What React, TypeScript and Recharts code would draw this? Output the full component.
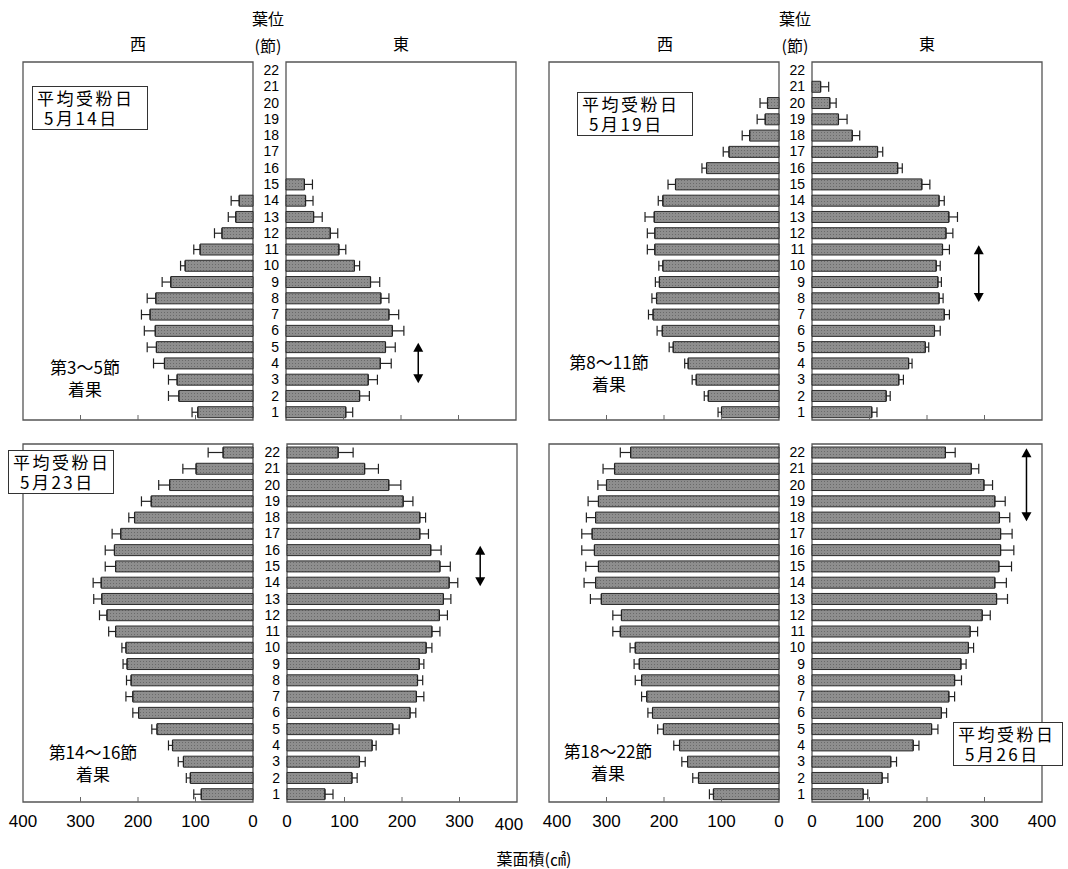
import { BarChart, Bar, XAxis, YAxis, ErrorBar, ReferenceArea, ReferenceLine } from "recharts";

// 葉位 (節) 1..22
const NODES = [1, 2, 3, 4, 5, 6, 7, 8, 9, 10, 11, 12, 13, 14, 15, 16, 17, 18, 19, 20, 21, 22];
const X_TICKS = [0, 100, 200, 300, 400];

// 平均受粉日 5月14日
const may14West = [96, 129, 132, 154, 168, 170, 179, 169, 143, 118, 92, 54, 30, 24];
const may14WestErr = [10, 18, 15, 19, 16, 19, 15, 15, 15, 8, 11, 13, 13, 14];
const may14East = [104, 128, 143, 164, 173, 185, 179, 165, 147, 119, 92, 77, 48, 34, 32];
const may14EastErr = [12, 17, 16, 19, 17, 20, 17, 14, 16, 9, 12, 13, 15, 13, 14];

// 平均受粉日 5月19日
const may19West = [100, 123, 144, 158, 184, 203, 219, 213, 208, 202, 216, 216, 217, 202, 180, 126, 87, 51, 24, 20];
const may19WestErr = [6, 7, 7, 6, 7, 9, 8, 8, 7, 7, 13, 13, 16, 8, 13, 8, 10, 13, 14, 13];
const may19East = [104, 129, 151, 168, 197, 213, 230, 221, 219, 216, 227, 233, 238, 221, 191, 149, 114, 70, 46, 31, 15];
const may19EastErr = [9, 7, 8, 6, 6, 10, 9, 7, 6, 7, 12, 12, 15, 9, 14, 8, 9, 13, 15, 11, 14];

// 平均受粉日 5月23日
const may23West = [90, 109, 121, 140, 167, 199, 209, 212, 219, 221, 239, 254, 263, 264, 239, 241, 230, 206, 177, 145, 99, 52];
const may23WestErr = [13, 7, 9, 7, 9, 10, 12, 8, 7, 7, 12, 13, 14, 14, 18, 16, 15, 10, 17, 19, 23, 26];
const may23East = [66, 113, 126, 148, 184, 214, 225, 227, 230, 242, 252, 265, 272, 282, 266, 250, 231, 231, 202, 177, 135, 89];
const may23EastErr = [14, 9, 10, 7, 11, 10, 13, 9, 8, 10, 14, 14, 13, 15, 18, 18, 15, 10, 17, 21, 24, 26];

// 平均受粉日 5月26日
const may26West = [114, 140, 159, 173, 201, 220, 230, 239, 243, 250, 276, 274, 309, 319, 314, 321, 325, 319, 314, 300, 286, 258];
const may26WestErr = [7, 10, 10, 10, 10, 8, 9, 11, 9, 9, 13, 15, 19, 20, 22, 22, 18, 16, 18, 15, 20, 18];
const may26East = [89, 122, 137, 176, 208, 225, 238, 248, 259, 272, 275, 296, 321, 318, 325, 328, 328, 326, 318, 299, 277, 232];
const may26EastErr = [8, 10, 10, 10, 11, 9, 10, 12, 9, 9, 13, 14, 19, 20, 22, 23, 20, 18, 18, 15, 13, 17];

const PLOT_W = 230;
const PLOT_H = 358;
const AXIS_W = 40;
const XAXIS_H = 36;
const M = 2;
const SIDE = 18;
const JP = "'Noto Sans CJK JP', 'Noto Sans', sans-serif";
const NUM = "'Liberation Sans', Arial, sans-serif";

function buildData(values: number[], errs: number[]) {
  return NODES.map((n, i) => ({
    node: n,
    value: values[i] ?? null,
    err: errs[i] != null ? [0, errs[i]] : null,
  }));
}

function XTick(props: any) {
  const { x, y, payload, showLabel, shift400 = 0, dy400 = 0 } = props;
  const inner = payload.value !== 0 && payload.value !== 400;
  const is400 = payload.value === 400;
  return (
    <g>
      {inner && <line x1={x} y1={y} x2={x} y2={y - 5} stroke="#666" strokeWidth={1} />}
      {showLabel && (
        <text
          x={x + (is400 ? shift400 : 0)}
          y={y + 25 + (is400 ? dy400 : 0)}
          textAnchor="middle"
          fontSize={17}
          fontFamily={NUM}
          fill="#000"
        >
          {payload.value}
        </text>
      )}
    </g>
  );
}

function ArrowShape(props: any) {
  const { x1, y1, y2 } = props;
  const top = Math.min(y1, y2) - 4;
  const bot = Math.max(y1, y2) + 4;
  return (
    <g>
      <line x1={x1} y1={top + 8} x2={x1} y2={bot - 8} stroke="#000" strokeWidth={1.5} />
      <path d={`M${x1},${top} L${x1 - 5},${top + 9} L${x1 + 5},${top + 9} Z`} fill="#000" />
      <path d={`M${x1},${bot} L${x1 - 5},${bot - 9} L${x1 + 5},${bot - 9} Z`} fill="#000" />
    </g>
  );
}

function HalfChart({ id, side, values, errs, left, top, labels, arrow, shift400, dy400 }: any) {
  const east = side === "east";
  const mLeft = east ? M : SIDE;
  const width = PLOT_W + mLeft + SIDE + (east ? AXIS_W : 0);
  const height = PLOT_H + M + XAXIS_H;
  return (
    <div style={{ position: "absolute", left: left - mLeft - (east ? AXIS_W : 0), top: top - M }}>
      <BarChart
        layout="vertical"
        width={width}
        height={height}
        data={buildData(values, errs)}
        margin={{ top: M, right: SIDE, bottom: 0, left: mLeft }}
      >
        <defs>
          <pattern id={id} width="3" height="3" patternUnits="userSpaceOnUse">
            <rect width="3" height="3" fill="#8e8e8e" />
            <rect width="1" height="1" fill="#6a6a6a" />
          </pattern>
        </defs>
        <XAxis
          type="number"
          domain={[0, 400]}
          ticks={X_TICKS}
          reversed={!east}
          height={XAXIS_H}
          axisLine={false}
          tickLine={false}
          tickSize={0}
          tickMargin={0}
          interval={0}
          tick={<XTick showLabel={labels} shift400={shift400} dy400={dy400} />}
        />
        <YAxis
          type="category"
          dataKey="node"
          reversed
          hide={!east}
          width={AXIS_W}
          axisLine={false}
          tickLine={false}
          tickSize={0}
          tickMargin={7}
          interval={0}
          tick={{ fontSize: 14, fill: "#000", fontFamily: NUM }}
        />
        <ReferenceArea x1={0} x2={400} fill="none" stroke="#555" strokeWidth={1.3} ifOverflow="visible" />
        <Bar dataKey="value" barSize={11} fill={`url(#${id})`} stroke="#2a2a2a" strokeWidth={1} isAnimationActive={false}>
          <ErrorBar dataKey="err" direction="x" width={5} stroke="#222" strokeWidth={1.2} />
        </Bar>
        {arrow && (
          <ReferenceLine
            segment={[{ x: arrow.x, y: arrow.from }, { x: arrow.x, y: arrow.to }]}
            shape={<ArrowShape />}
            ifOverflow="visible"
          />
        )}
      </BarChart>
    </div>
  );
}

function DateBox({ left, top, width, date }: any) {
  return (
    <div
      style={{
        position: "absolute",
        left,
        top,
        width,
        height: 44,
        boxSizing: "border-box",
        border: "1.3px solid #333",
        background: "#fff",
        fontFamily: JP,
        fontSize: 17,
        lineHeight: "20px",
        letterSpacing: 2.5,
        padding: "1px 0 0 4px",
        color: "#000",
        whiteSpace: "nowrap",
      }}
    >
      <div>平均受粉日</div>
      <div style={{ paddingLeft: 7 }}>{date}</div>
    </div>
  );
}

function FruitNote({ cx, top, text }: any) {
  return (
    <div
      style={{
        position: "absolute",
        left: cx - 70,
        top,
        width: 140,
        textAlign: "center",
        fontFamily: JP,
        fontSize: 17,
        lineHeight: "22px",
        color: "#000",
      }}
    >
      <div>{text}</div>
      <div>着果</div>
    </div>
  );
}

function Label({ cx, cy, text, size = 16 }: any) {
  return (
    <div
      style={{
        position: "absolute",
        left: cx - 40,
        top: cy - size * 0.7,
        width: 80,
        textAlign: "center",
        fontFamily: JP,
        fontSize: size,
        lineHeight: `${size * 1.4}px`,
        color: "#000",
      }}
    >
      {text}
    </div>
  );
}

export default function App() {
  return (
    <div style={{ position: "absolute", left: 0, top: 0, width: 1068, height: 869, background: "#fff", overflow: "hidden" }}>
      <Label cx={138} cy={43} text="西" />
      <Label cx={268} cy={18} text="葉位" />
      <Label cx={268} cy={45} text="(節)" />
      <Label cx={401} cy={43} text="東" />
      <Label cx={665} cy={43} text="西" />
      <Label cx={795} cy={18} text="葉位" />
      <Label cx={795} cy={45} text="(節)" />
      <Label cx={927} cy={43} text="東" />

      <HalfChart id="p1" side="west" values={may14West} errs={may14WestErr} left={23} top={62} labels={false} />
      <HalfChart id="p2" side="east" values={may14East} errs={may14EastErr} left={286} top={62} labels={false}
        arrow={{ x: 230, from: 5, to: 3 }} />
      <HalfChart id="p3" side="west" values={may19West} errs={may19WestErr} left={549} top={62} labels={false} />
      <HalfChart id="p4" side="east" values={may19East} errs={may19EastErr} left={812} top={62} labels={false}
        arrow={{ x: 290, from: 11, to: 8 }} />
      <HalfChart id="p5" side="west" values={may23West} errs={may23WestErr} left={23} top={444} labels />
      <HalfChart id="p6" side="east" values={may23East} errs={may23EastErr} left={287} top={444} labels
        arrow={{ x: 336, from: 16, to: 14 }} shift400={-8} dy400={3} />
      <HalfChart id="p7" side="west" values={may26West} errs={may26WestErr} left={549} top={444} labels shift400={8} />
      <HalfChart id="p8" side="east" values={may26East} errs={may26EastErr} left={812} top={444} labels
        arrow={{ x: 373, from: 22, to: 18 }} />

      <DateBox left={32} top={86} width={116} date="5月14日" />
      <DateBox left={577} top={92} width={116} date="5月19日" />
      <DateBox left={8} top={450} width={106} date="5月23日" />
      <DateBox left={953} top={722} width={110} date="5月26日" />

      <FruitNote cx={85} top={356} text="第3～5節" />
      <FruitNote cx={609} top={351} text="第8～11節" />
      <FruitNote cx={93} top={741} text="第14～16節" />
      <FruitNote cx={608} top={740} text="第18～22節" />

      <div
        style={{
          position: "absolute",
          left: 434,
          top: 846,
          width: 200,
          textAlign: "center",
          fontFamily: JP,
          fontSize: 16,
          color: "#000",
        }}
      >
        葉面積(㎠)
      </div>
    </div>
  );
}
